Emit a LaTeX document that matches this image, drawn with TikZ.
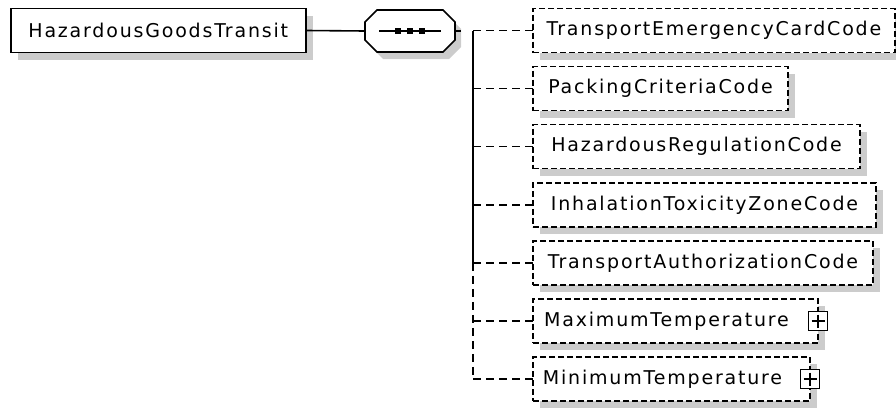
\documentclass[tikz,border=0pt]{standalone}
\usepackage{fontspec}
\newfontfamily\xsdfont{DejaVu Sans}[LetterSpace=9.5]
\usepackage{tikz}
\usetikzlibrary{positioning, shadows}
\definecolor{xsdShadow}{RGB}{204, 204, 204}

\begin{document}
\begin{tikzpicture}[x=1pt, y=-1pt,
    xsdshadow/.style={drop shadow={shadow xshift=7pt, shadow yshift=-7pt, fill=xsdShadow, opacity=1}},
    rootbox/.style={draw, line width=1.5pt, fill=white, minimum width=295pt, minimum height=44pt, anchor=west, xsdshadow, font={\xsdfont\fontsize{19pt}{21pt}\selectfont}},
    elembox/.style={draw, dash pattern=on 6pt off 3pt, line width=1.4pt, fill=white, minimum height=44pt, outer sep=0pt, anchor=west, xsdshadow, font={\xsdfont\fontsize{19pt}{21pt}\selectfont}},
    seqhold/.style={minimum width=90pt, minimum height=42pt, outer sep=0pt, inner sep=0pt},
    dotsq/.style={fill=black, minimum size=5.5pt, inner sep=0pt},
    plusbox/.style={draw, fill=white, line width=1.4pt, minimum size=19pt, inner sep=0pt,
      path picture={\draw[line width=1.4pt] ([yshift=-3pt]path picture bounding box.north) -- ([yshift=3pt]path picture bounding box.south)
        ([xshift=3pt]path picture bounding box.west) -- ([xshift=-3pt]path picture bounding box.east);}},
    conn/.style={line width=1.6pt},
    link/.style={line width=1.5pt, dash pattern=on 8pt off 5pt}]
  \useasboundingbox (0,0) rectangle (896,407);

  % root element and sequence
  \node[rootbox] (hgt) at (10,30.5) {HazardousGoodsTransit};
  \fill[xsdShadow, shift={(6,7)}] (377,10) -- (443,10) -- (455,22) -- (455,40) -- (443,52) -- (377,52) -- (365,40) -- (365,22) -- cycle;
  \draw[conn, fill=white] (377,10) -- (443,10) -- (455,22) -- (455,40) -- (443,52) -- (377,52) -- (365,40) -- (365,22) -- cycle;
  \node[seqhold] (seq) at (410,31) {};
  \draw[conn] (hgt.east) -- (seq.west);
  \draw[conn] ([xshift=-31pt]seq.center) -- ([xshift=31pt]seq.center);
  \foreach \dx [count=\i] in {-12,0,12}
    \node[dotsq] (dot\i) at ([xshift=\dx pt]seq.center) {};
  \draw[conn] (seq.east) -- ++(6pt,0);
  \coordinate (fork) at ([xshift=18pt]seq.east);

  % children
  \node[elembox, minimum width=362pt] (tecc) at (533,30.5) {TransportEmergencyCardCode};
  \node[elembox, minimum width=255pt, below=14.1pt of tecc.south west, anchor=north west] (pcc) {PackingCriteriaCode};
  \node[elembox, minimum width=327pt, below=14.1pt of pcc.south west, anchor=north west] (hrc) {HazardousRegulationCode};
  \node[elembox, minimum width=343pt, below=14.1pt of hrc.south west, anchor=north west] (itzc) {InhalationToxicityZoneCode};
  \node[elembox, minimum width=340pt, below=14.1pt of itzc.south west, anchor=north west] (tac) {TransportAuthorizationCode};
  \node[elembox, minimum width=285pt, below=14.1pt of tac.south west, anchor=north west] (maxt) {MaximumTemperature\hspace*{18pt}};
  \node[elembox, minimum width=277pt, below=14.1pt of maxt.south west, anchor=north west] (mint) {MinimumTemperature\hspace*{18pt}};
  \node[plusbox] (maxp) at (maxt.east) {};
  \node[plusbox] (minp) at (mint.east) {};

  % trunk and connectors
  \draw[conn] (fork) -- (fork |- tac.west);
  \draw[link] (fork |- tac.west) -- (fork |- mint.west);
  \foreach \el in {tecc, pcc, hrc, itzc, tac, maxt, mint}
    \draw[link] (fork |- \el.west) -- (\el.west);
\end{tikzpicture}
\end{document}
